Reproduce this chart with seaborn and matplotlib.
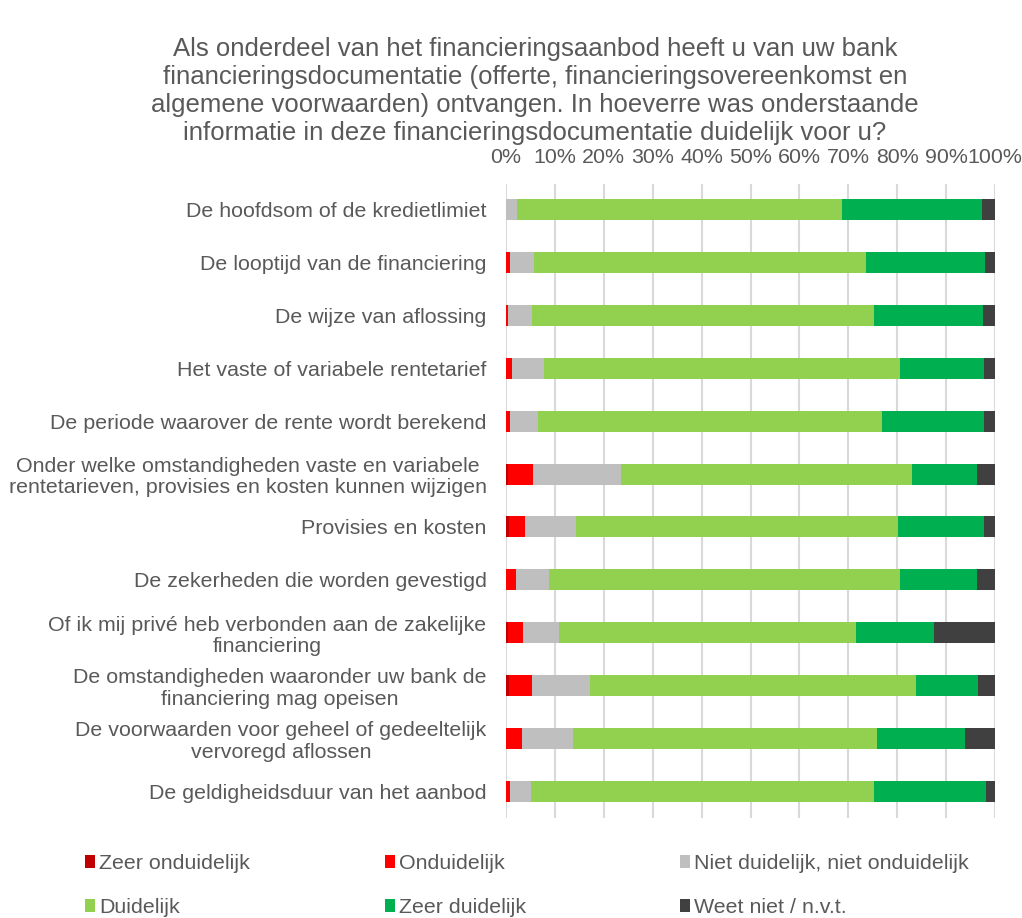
import numpy as np
import pandas as pd
import matplotlib
matplotlib.use("Agg")
import matplotlib.pyplot as plt
from matplotlib.patches import Patch
import seaborn as sns

# Survey items (top to bottom)
items = [
    "De hoofdsom of de kredietlimiet",
    "De looptijd van de financiering",
    "De wijze van aflossing",
    "Het vaste of variabele rentetarief",
    "De periode waarover de rente wordt berekend",
    "Onder welke omstandigheden vaste en variabele\nrentetarieven, provisies en kosten kunnen wijzigen",
    "Provisies en kosten",
    "De zekerheden die worden gevestigd",
    "Of ik mij privé heb verbonden aan de zakelijke\nfinanciering",
    "De omstandigheden waaronder uw bank de\nfinanciering mag opeisen",
    "De voorwaarden voor geheel of gedeeltelijk\nvervoregd aflossen",
    "De geldigheidsduur van het aanbod",
]

answers = [
    "Zeer onduidelijk",
    "Onduidelijk",
    "Niet duidelijk, niet onduidelijk",
    "Duidelijk",
    "Zeer duidelijk",
    "Weet niet / n.v.t.",
]

# Share of respondents per answer (%)
zeer_onduidelijk = [0.0, 0.0, 0.0, 0.0, 0.0, 0.4, 0.7, 0.0, 0.4, 0.7, 0.0, 0.0]
onduidelijk      = [0.0, 0.9, 0.4, 1.2, 0.9, 5.2, 3.2, 2.1, 3.0, 4.6, 3.2, 0.9]
neutraal         = [2.3, 4.8, 5.0, 6.6, 5.6, 17.9, 10.4, 6.6, 7.4, 11.9, 10.4, 4.2]
duidelijk        = [66.4, 67.9, 69.9, 72.7, 70.4, 59.6, 65.8, 71.8, 60.7, 66.7, 62.3, 70.1]
zeer_duidelijk   = [28.7, 24.3, 22.2, 17.2, 20.8, 13.3, 17.7, 15.8, 16.1, 12.7, 17.9, 22.9]
weet_niet        = [2.6, 2.1, 2.5, 2.3, 2.3, 3.6, 2.2, 3.7, 12.4, 3.4, 6.2, 1.9]

colors = ["#C00000", "#FF0000", "#BFBFBF", "#92D050", "#00B050", "#404040"]
text_color = "#595959"

series = [zeer_onduidelijk, onduidelijk, neutraal, duidelijk, zeer_duidelijk, weet_niet]
values = np.array(series).T
cum = np.cumsum(values, axis=1)

sns.set_style("white")
plt.rcParams["font.family"] = ["Liberation Sans", "DejaVu Sans"]

fig = plt.figure(figsize=(10.22, 9.18), dpi=100)
ax = fig.add_axes([506 / 1022, 1 - 817.5 / 918, 489 / 1022, 634 / 918])

# Stacked bars: draw cumulative totals from the outermost segment inwards
for i in reversed(range(len(answers))):
    df = pd.DataFrame({"item": items, "value": cum[:, i]})
    sns.barplot(data=df, x="value", y="item", orient="h", color=colors[i],
                saturation=1, width=0.4, ax=ax, linewidth=0)

ax.set_xlim(0, 100)
ax.set_xticks(np.arange(0, 101, 10))
ax.set_xticklabels([f"{v}%" for v in range(0, 101, 10)])
ax.xaxis.tick_top()
ax.set_xlabel("")
ax.set_ylabel("")
ax.grid(axis="x", color="#D9D9D9", linewidth=1.5)
ax.grid(axis="y", visible=False)
ax.set_axisbelow(True)
for s in ax.spines.values():
    s.set_visible(False)
ax.tick_params(axis="x", length=0, pad=12, labelsize=15.4, colors=text_color)
ax.tick_params(axis="y", length=0, pad=14, labelsize=15.4, colors=text_color)
for lbl in ax.get_yticklabels():
    lbl.set_multialignment("center")
    lbl.set_linespacing(1.15)

fig.text(535 / 1022, 1 - 91 / 918,
         "Als onderdeel van het financieringsaanbod heeft u van uw bank\n"
         "financieringsdocumentatie (offerte, financieringsovereenkomst en\n"
         "algemene voorwaarden) ontvangen. In hoeverre was onderstaande\n"
         "informatie in deze financieringsdocumentatie duidelijk voor u?",
         ha="center", va="center", fontsize=18.5, color=text_color,
         linespacing=1.22)

# Legend: three columns of two entries each
handles = [Patch(facecolor=c, edgecolor="none") for c in colors]
col_x = [85, 385, 680]
for c in range(3):
    idx = [c, c + 3]
    leg = fig.legend([handles[j] for j in idx], [answers[j] for j in idx],
                     loc="center left", bbox_to_anchor=(col_x[c] / 1022, 1 - 885.5 / 918),
                     frameon=False, fontsize=15.4, handlelength=0.45,
                     handleheight=0.55, handletextpad=0.2, labelspacing=1.2,
                     borderpad=0, borderaxespad=0)
    for t in leg.get_texts():
        t.set_color(text_color)

fig.savefig("out.png", dpi=100)
